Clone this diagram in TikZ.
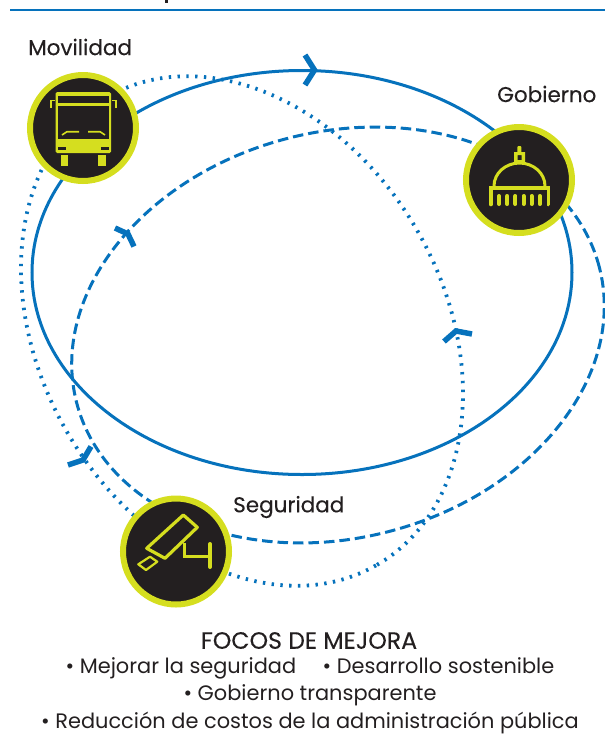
\documentclass[tikz,border=0pt]{standalone}
\usepackage{fontspec}
\setmainfont{Poppins}
\newfontfamily\labelfont{Poppins}[FakeBold=0.25]
\definecolor{bl}{HTML}{0672BC}
\definecolor{lime}{HTML}{D5DE1F}
\definecolor{ink}{HTML}{231F20}
\tikzset{
  x=1pt,y=1pt,
  orbit/.style={draw=bl,line width=3pt},
  orbitdash/.style={orbit,dash pattern=on 10.5pt off 5pt},
  orbitdot/.style={draw=bl,line width=3.8pt,dash pattern=on 2.4pt off 6.4pt},
  chev/.style={draw=bl,line width=5.5pt,line cap=butt,line join=miter},
  badge/.style={circle,draw=lime,fill=ink,line width=6pt,minimum size=106pt,inner sep=0pt},
  lbl/.style={text=ink,font=\labelfont\fontsize{21.5}{24}\selectfont,inner sep=0pt},
  foot/.style={text=ink,font=\fontsize{20.9}{24}\selectfont,inner sep=0pt},
  foothead/.style={text=ink,font=\labelfont\fontsize{23.6}{24}\selectfont,inner sep=0pt},
}
\begin{document}
\begin{tikzpicture}
\useasboundingbox (0,0) rectangle (605,-748);
\coordinate (ruleL) at (10,-9.5);
\coordinate (ruleR) at (605,-9.5);
\draw[bl,line width=2pt] (ruleL) -- (ruleR);
\fill[ink] (164.5,0) rectangle (167.5,-3);
% orbits
\draw[orbit] (302,-272.5) ellipse [x radius=270,y radius=202];
\draw[orbitdash] (338,-335) ellipse [x radius=270,y radius=203,rotate=14.6];
\draw[orbitdot] (242,-331) ellipse [x radius=270,y radius=202,rotate=-60];
% chevrons
\draw[chev] (305,-55) -- (314.5,-70) -- (305,-85);
\draw[chev] (115,-228) -- (128,-234) -- (134,-246.5);
\draw[chev] (444,-341.5) -- (456,-331) -- (472,-334);
\draw[chev] (68,-465) -- (83,-460) -- (91,-446.5);
% badges
\node[badge] (mov) at (83,-128) {};
\node[badge] (gob) at (519,-180) {};
\node[badge] (seg) at (176,-551.5) {};
% bus
\fill[lime,rounded corners=1.5pt] (55.7,-92) rectangle (111,-153);
\fill[ink] (58,-96) rectangle (108.7,-103);
\fill[ink] (58,-106) rectangle (108.7,-139);
\fill[ink] (58,-146.5) rectangle (66,-150);
\fill[ink] (101,-146.5) rectangle (109,-150);
\fill[lime] (61,-155) rectangle (68,-166);
\fill[lime] (98,-155) rectangle (106,-166);
\draw[lime,line width=1.8pt] (55,-100.5) -- (50.8,-100.5) -- (50.8,-107.5);
\draw[lime,line width=1.8pt] (111.5,-100.5) -- (115.7,-100.5) -- (115.7,-107.5);
\draw[lime,line width=1.6pt] (62,-135) -- (67,-131.7) -- (79,-131.7);
\draw[lime,line width=1.6pt] (105,-135) -- (100,-131.7) -- (88,-131.7);
% dome
\fill[lime] (489,-186) rectangle (550,-189.5);
\draw[lime,line width=3.6pt,line cap=round] (490.7,-188) -- (490.7,-204.5);
\draw[lime,line width=3.6pt,line cap=round] (548.3,-188) -- (548.3,-204.5);
\foreach \cx in {499,507.3,515.4,523.5,531.6,539.8}
  \draw[lime,line width=4pt,line cap=round] (\cx,-196) -- (\cx,-204);
\draw[lime,line width=3pt] (494,-186) arc [start angle=180,end angle=0,x radius=25.5,y radius=23];
\fill[lime,even odd rule] (514,-152) rectangle (525,-163) (517.5,-155) rectangle (521.5,-160);
\fill[lime,rounded corners=1pt] (517.3,-146) rectangle (521.3,-153);
% camera
\draw[lime,line width=3.2pt,line join=round] (183.3,-515) -- (197.3,-527.3) -- (165,-558.3) -- (146.7,-548.3) -- cycle;
\draw[lime,line width=2.2pt,line join=round] (150,-556.7) -- (157.3,-561.7) -- (146,-570) -- (138.3,-564.3) -- cycle;
\draw[lime,line width=3pt] (184,-543) -- (184,-556) -- (210,-556);
\draw[lime,line width=4pt,line cap=round] (210,-544) -- (210,-567);
% labels
\node[lbl,anchor=west] (tm) at (28,-47) {Movilidad};
\node[lbl,anchor=west] (tg) at (497,-94) {Gobierno};
\node[lbl,anchor=west] (ts) at (233,-507) {Seguridad};
\node[foothead] (f0) at (309,-640.5) {FOCOS DE MEJORA};
\node[foot] (f1) at (310,-668) {• Mejorar la seguridad\hspace{1em} • Desarrollo sostenible};
\node[foot] (f2) at (310,-695) {• Gobierno transparente};
\node[foot] (f3) at (310,-723) {• Reducción de costos de la administración pública};
\end{tikzpicture}
\end{document}
